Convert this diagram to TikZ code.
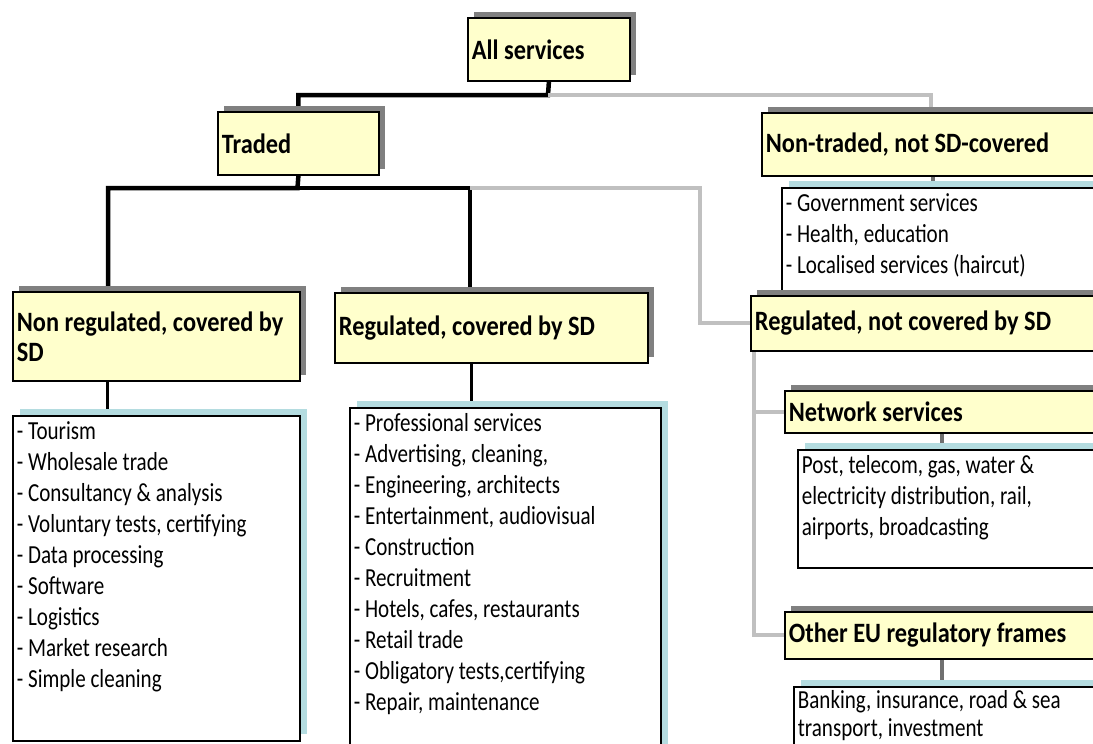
\documentclass[tikz,border=0pt]{standalone}
\usepackage{fontspec}
\setmainfont{Carlito}[FakeStretch=0.81]
\newfontfamily\headfont{Carlito}[FakeStretch=0.87]
\usetikzlibrary{shadows,backgrounds,calc}
\definecolor{boxyellow}{HTML}{FFFFCC}
\definecolor{shadowgray}{HTML}{808080}
\definecolor{shadowblue}{HTML}{B4DCE0}
\definecolor{linegray}{HTML}{C0C0C0}
\definecolor{stubgray}{HTML}{707070}
\newcommand\itemlist[3]{\begin{minipage}[c][#2][t]{#1}\raggedright #3\end{minipage}}
\begin{document}
\begin{tikzpicture}[x=1pt,y=-1pt,
  head/.style={draw=black, line width=1.8pt, fill=boxyellow, anchor=north west,
    inner xsep=4pt, inner ysep=0pt, align=flush left,
    font=\headfont\fontsize{28}{30}\selectfont\bfseries,
    drop shadow={shadow xshift=6pt, shadow yshift=6pt, fill=shadowgray, opacity=1}},
  listbox/.style={draw=black, line width=1.8pt, fill=white, anchor=north west,
    inner xsep=4pt, inner ysep=6pt,
    font=\fontsize{26}{31}\selectfont,
    drop shadow={shadow xshift=7pt, shadow yshift=7pt, fill=shadowblue, opacity=1}},
  blackline/.style={draw=black, line width=4.5pt},
  blackthin/.style={draw=black, line width=3pt},
  grayline/.style={draw=linegray, line width=4pt},
  stubline/.style={draw=stubgray, line width=4pt}]
\useasboundingbox (0,0) rectangle (1093,744);
\clip (0,0) rectangle (1093,744);

\node[head, minimum width=162, minimum height=63, text width=154] (all) at (467,17) {All services};
\node[head, minimum width=161, minimum height=63, text width=153] (traded) at (217,111) {Traded};
\node[head, minimum width=400, minimum height=63, text width=392] (nontraded) at (761,112) {Non-traded, not SD-covered};
\node[listbox] (ntlist) at (781,187) {\itemlist{392pt}{93pt}{- Government services\\- Health, education\\- Localised services (haircut)}};
\node[head, minimum width=287, minimum height=89, text width=279] (nonreg) at (12,291) {Non regulated, covered by\\SD};
\node[listbox] (nrlist) at (12,415) {\itemlist{279pt}{313pt}{- Tourism\\- Wholesale trade\\- Consultancy \& analysis\\- Voluntary tests, certifying\\- Data processing\\- Software\\- Logistics\\- Market research\\- Simple cleaning}};
\node[head, minimum width=313, minimum height=70, text width=305] (regc) at (334,292) {Regulated, covered by SD};
\node[listbox] (rclist) at (349,407) {\itemlist{303pt}{388pt}{- Professional services\\- Advertising, cleaning,\\- Engineering, architects\\- Entertainment, audiovisual\\- Construction\\- Recruitment\\- Hotels, cafes, restaurants\\- Retail trade\\- Obligatory tests,certifying\\- Repair, maintenance}};
\node[head, minimum width=400, minimum height=55, text width=392] (regnot) at (750,295) {Regulated, not covered by SD};
\node[head, minimum width=400, minimum height=42, text width=392] (netsv) at (784,390) {Network services};
\node[listbox] (netlist) at (797,449) {\itemlist{392pt}{106pt}{Post, telecom, gas, water \&\\electricity distribution, rail,\\airports, broadcasting}};
\node[head, minimum width=400, minimum height=47, text width=392] (othereu) at (784,611) {Other EU regulatory frames};
\node[listbox, inner ysep=4pt] (banklist) at (793,686) {\itemlist{392pt}{90pt}{\fontsize{26}{28}\selectfont Banking, insurance, road \& sea\\transport, investment}};

\coordinate (j1) at (548,95);
\coordinate (j2) at (297.5,188);
\coordinate (j3) at (470,188);
\coordinate (j4) at (700,188);

\begin{scope}[on background layer]
\draw[blackline] (all.south) -- (j1) -| (traded.north);
\draw[grayline] (j1) -| ($(nontraded.north west)+(170,0)$);
\draw[blackline] (traded.south) -- (j2) -| ($(nonreg.north west)+(96,0)$);
\draw[blackline] (j2) -- (j3) -- ($(regc.north west)+(136,0)$);
\draw[grayline] (j3) -- (j4) |- (regnot.west);
\draw[blackthin] ($(nonreg.south west)+(95,0)$) -- ($(nrlist.north west)+(95,0)$);
\draw[blackthin] ($(regc.south west)+(137,0)$) -- ($(rclist.north west)+(122,0)$);
\draw[stubline] ($(nontraded.south west)+(172,0)$) -- ($(ntlist.north west)+(152,0)$);
\draw[grayline] ($(regnot.south west)+(4,0)$) |- (netsv.west);
\draw[grayline] ($(regnot.south west)+(4,0)$) |- (othereu.west);
\draw[stubline] ($(netsv.south west)+(158,0)$) -- ($(netlist.north west)+(145,0)$);
\draw[stubline] ($(othereu.south west)+(158,0)$) -- ($(banklist.north west)+(149,0)$);
\end{scope}
\end{tikzpicture}
\end{document}
